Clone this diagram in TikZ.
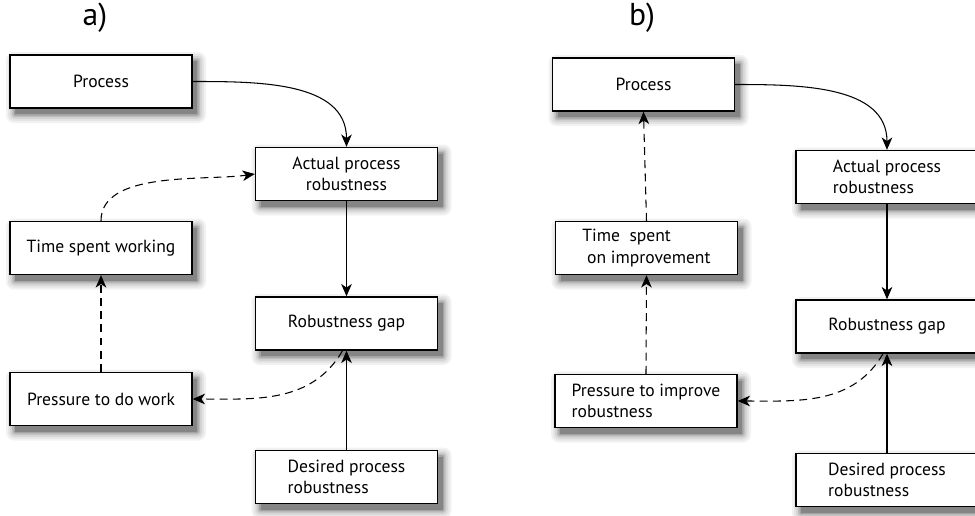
\documentclass[tikz,border=0pt]{standalone}
\usepackage{fontspec}
\setmainfont{PT Sans}
\usetikzlibrary{arrows.meta}

\tikzset{
  box/.style={draw, line width=0.8pt, fill=white, minimum width=3.64cm,
    minimum height=1.06cm, align=left, font=\fontsize{10}{12}\selectfont},
  link/.style={-{Stealth[length=7pt,width=6pt,inset=2pt]}, line width=0.6pt},
  dlink/.style={link, dash pattern=on 4.5pt off 3pt},
  panel/.style={font=\fontsize{18}{21}\selectfont},
}

\begin{document}
\begin{tikzpicture}[x=0.02cm, y=-0.02cm]
      \useasboundingbox (0,0) rectangle (975,515);
      % soft shadows, drawn first so the boxes cover them
      \foreach \cx/\cy in {101/81.5,346.5/174,101/248,346.5/323.5,101/399,346.5/477,
                           643.5/84.5,887/177,646.5/248,887/326.5,646/401,887/480}{
        \foreach \dd/\gr in {9/5,7/10,5/17,3/26,1.5/36,0/48}{
          \fill[black!\gr, rounded corners=\dd*0.5pt]
            ({\cx-91+5-\dd},{\cy-26.5+6-\dd}) rectangle ({\cx+91+5+\dd},{\cy+26.5+6+\dd});
        }
      }
      % a) time spent working
      \node[panel] (alabel) at (95,18) {a)};
      \node[box] (aproc) at (101,81.5) {Process};
      \node[box, align=center] (aact) at (346.5,174) {Actual process\\robustness};
      \node[box] (atime) at (101,248) {Time spent working};
      \node[box] (agap) at (346.5,323.5) {Robustness gap};
      \node[box] (apress) at (101,399) {Pressure to do work};
      \node[box] (ades) at (346.5,477) {Desired process\\robustness};
      \draw[link] (aproc.east) to[out=0,in=90] (aact.north);
      \draw[link] (aact.south) -- (agap.north);
      \draw[link] (ades.north) -- (agap.south);
      \draw[dlink] (apress.north) -- (atime.south);
      \draw[dlink] (atime.north) to[out=90,in=188,looseness=0.8] (aact.west);
      \draw[dlink] ([xshift=-0.08cm]agap.south) to[out=240,in=0] (apress.east);
      % b) time spent on improvement
      \node[panel] (blabel) at (642,18) {b)};
      \node[box] (bproc) at (643.5,84.5) {Process};
      \node[box] (bact) at (887,177) {Actual process\\robustness};
      \node[box] (btime) at (646.5,248) {Time\ \ spent\\\ on improvement};
      \node[box] (bgap) at (887,326.5) {Robustness gap};
      \node[box] (bpress) at (646,401) {Pressure to improve\\robustness};
      \node[box] (bdes) at (887,480) {Desired process\\robustness};
      \draw[link] (bproc.east) to[out=0,in=90] (bact.north);
      \draw[link] (bact.south) -- (bgap.north);
      \draw[link] (bdes.north) -- (bgap.south);
      \draw[dlink] (bpress.north) -- (btime.south);
      \draw[dlink] (btime.north) -- (bproc.south);
      \draw[dlink] ([xshift=-0.08cm]bgap.south) to[out=240,in=0] (bpress.east);
\end{tikzpicture}
\end{document}
